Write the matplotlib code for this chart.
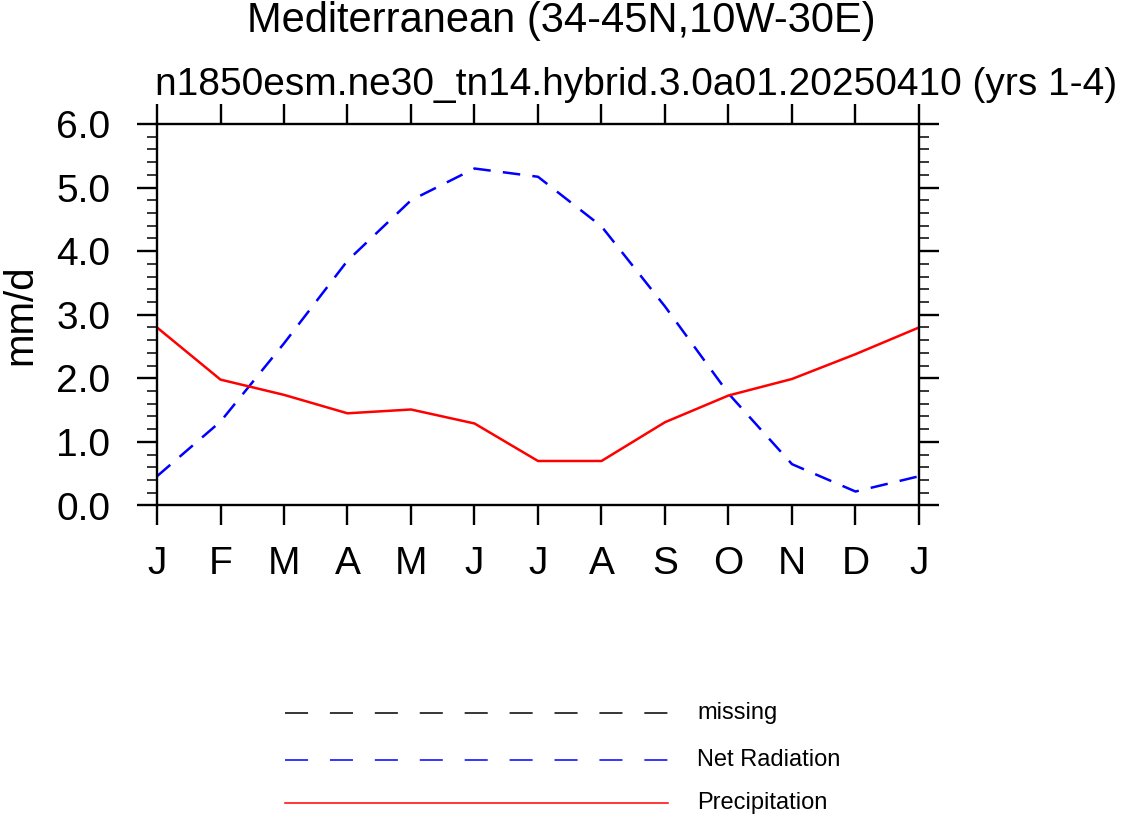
import matplotlib
matplotlib.use("Agg")
import matplotlib.pyplot as plt
from matplotlib.lines import Line2D

# ---- data ----
months = ["J", "F", "M", "A", "M", "J", "J", "A", "S", "O", "N", "D", "J"]
net_radiation = [0.46, 1.32, 2.55, 3.85, 4.80, 5.30, 5.17, 4.39, 3.13, 1.76, 0.65, 0.22, 0.46]
precipitation = [2.80, 1.98, 1.74, 1.45, 1.51, 1.29, 0.70, 0.70, 1.31, 1.73, 1.99, 2.38, 2.80]
yticks = [0.0, 1.0, 2.0, 3.0, 4.0, 5.0, 6.0]
ytick_labels = ["0.0", "1.0", "2.0", "3.0", "4.0", "5.0", "6.0"]
legend_labels = ["missing", "Net Radiation", "Precipitation"]
title = "Mediterranean (34-45N,10W-30E)"
subtitle = "n1850esm.ne30_tn14.hybrid.3.0a01.20250410 (yrs 1-4)"
ylabel = "mm/d"

plt.rcParams['font.family'] = ['Liberation Sans', 'DejaVu Sans']

W, H = 1123, 818
fig = plt.figure(figsize=(W / 100, H / 100), dpi=100)

def fx(px):
    return px / W

def fy(py):
    return 1 - py / H

ax = fig.add_axes([fx(157), fy(505.5), fx(919) - fx(157), fy(124) - fy(505.5)])

x = list(range(len(months)))
lw = 1.8
ax.plot(x, net_radiation, color="blue", linewidth=lw, dashes=(7.0, 4.9))
ax.plot(x, precipitation, color="red", linewidth=lw)

ax.set_xlim(0, len(months) - 1)
ax.set_ylim(0, 6)
ax.set_xticks(x)
ax.set_xticklabels(months, fontsize=28)
ax.set_yticks(yticks)
ax.set_yticklabels(ytick_labels, fontsize=28)
ax.set_yticks([i * 0.2 for i in range(31)], minor=True)

for s in ax.spines.values():
    s.set_linewidth(1.7)

ax.tick_params(axis="x", which="major", direction="out", length=14.5, width=1.7,
               top=True, bottom=True, pad=15)
ax.tick_params(axis="y", which="major", direction="out", length=14.5, width=1.7,
               left=True, right=True, pad=19)
ax.tick_params(axis="y", which="minor", direction="out", length=7.2, width=1.1,
               left=True, right=True)
ax.tick_params(axis="x", which="minor", bottom=False, top=False)

fig.text(fx(20), fy(315), ylabel, rotation=90, fontsize=29, ha="center", va="center")

fig.text(fx(561.5), fy(32), title, fontsize=30, ha="center", va="baseline")
fig.text(fx(155), fy(95), subtitle, fontsize=28, ha="left", va="baseline")

# ---- legend (manual) ----
leg_styles = [
    dict(color="black", dashes=(15.1, 14.3)),
    dict(color="blue", dashes=(15.1, 14.3)),
    dict(color="red"),
]
leg_rows = [713, 760, 803]
for lab, st, ry in zip(legend_labels, leg_styles, leg_rows):
    ln = Line2D([fx(285), fx(668)], [fy(ry), fy(ry)], transform=fig.transFigure,
                linewidth=1.1, **st)
    fig.add_artist(ln)
    fig.text(fx(697), fy(ry), lab, fontsize=17, ha="left", va="center")

fig.savefig("out.png", dpi=100)
